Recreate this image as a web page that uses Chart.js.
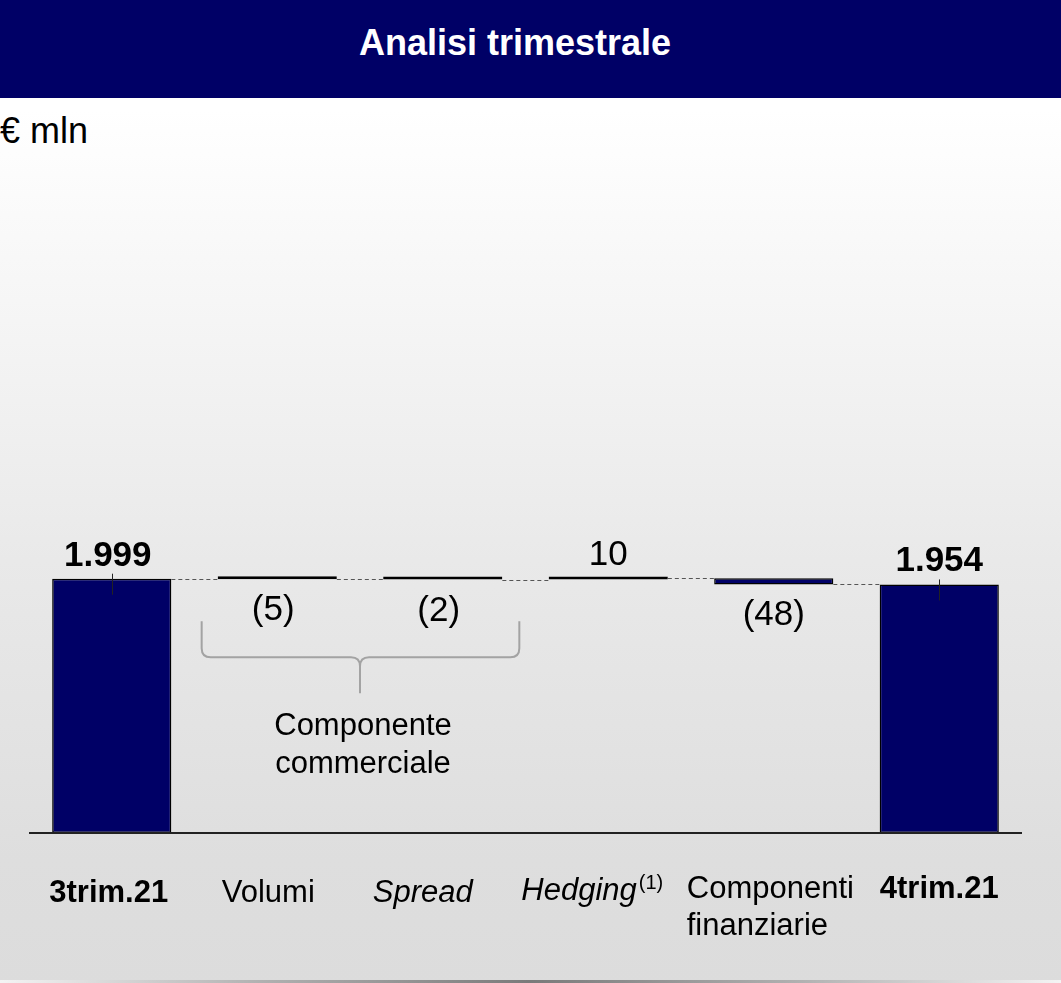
<!DOCTYPE html>
<html>
<head>
<meta charset="utf-8">
<script src="https://cdn.jsdelivr.net/npm/chart.js@4.4.1/dist/chart.umd.min.js"></script>
<style>
  html, body { margin: 0; padding: 0; }
  body {
    width: 1061px; height: 983px; position: relative; overflow: hidden;
    font-family: "Liberation Sans", Arial, sans-serif;
    background: linear-gradient(to bottom, #ffffff 0px, #ffffff 110px, #f6f6f6 300px, #e9e9e9 560px, #dedede 860px, #dcdcdc 983px);
  }
  #header {
    position: absolute; left: 0; top: 0; width: 1061px; height: 98px; background: #000066;
  }
  #title {
    position: absolute; left: 0; top: 25px; width: 1030px; text-align: center;
    color: #ffffff; font-weight: bold; font-size: 36px; line-height: 36px;
  }
  #unit {
    position: absolute; left: 0; top: 113px; font-size: 36px; line-height: 36px; color: #000;
  }
  #bottomline {
    position: absolute; left: 0; bottom: 0; width: 1061px; height: 3px;
    background: linear-gradient(to right, #f4f4f4 0%, #b0b0b0 25%, #7a7a7a 50%, #b0b0b0 75%, #f4f4f4 100%);
  }
  canvas { position: absolute; left: 0; top: 0; }
</style>
</head>
<body>
<div id="header"><div id="title">Analisi trimestrale</div></div>
<div id="unit">€ mln</div>
<canvas id="c" width="1061" height="983"></canvas>
<div id="bottomline"></div>
<script>
// ---- data ----
const categories = ['3trim.21', 'Volumi', 'Spread', 'Hedging', 'Componenti finanziarie', '4trim.21'];
const startTotal = 1999;           // 3trim.21
const changes = [-5, -2, 10, -48]; // Volumi, Spread, Hedging, Componenti finanziarie
const endTotal = 1954;             // 4trim.21
const groupLabel = ['Componente', 'commerciale'];
const footnote = '(1)';

// ---- build floating bars ----
const floating = [];
const running = [];
floating.push([0, startTotal]);
running.push(startTotal);
let cur = startTotal;
changes.forEach(d => {
  floating.push([cur, cur + d]);
  cur += d;
  running.push(cur);
});
floating.push([0, endTotal]);
running.push(endTotal);

const fmtTotal = v => v.toLocaleString('it-IT');
const fmtDelta = d => d < 0 ? '(' + Math.abs(d) + ')' : String(d);
const valueLabels = [fmtTotal(startTotal), ...changes.map(fmtDelta), fmtTotal(endTotal)];

const FONT = '"Liberation Sans", Arial, sans-serif';

const overlay = {
  id: 'overlay',
  afterDatasetsDraw(chart) {
    const ctx = chart.ctx;
    const y = chart.scales.y;
    const meta = chart.getDatasetMeta(0);
    const bars = meta.data;
    const area = chart.chartArea;
    const n = bars.length;

    ctx.save();
    // connectors
    ctx.strokeStyle = '#555555';
    ctx.lineWidth = 1;
    ctx.setLineDash([4, 3]);
    for (let i = 0; i < n - 1; i++) {
      const b = bars[i], nb = bars[i + 1];
      const yy = Math.round(y.getPixelForValue(running[i])) + 0.5;
      ctx.beginPath();
      ctx.moveTo(b.x + b.width / 2, yy);
      ctx.lineTo(nb.x - nb.width / 2, yy);
      ctx.stroke();
    }
    ctx.setLineDash([]);

    // small ticks on totals
    ctx.strokeStyle = '#222222';
    ctx.lineWidth = 1;
    [0, n - 1].forEach(i => {
      const b = bars[i];
      const top = y.getPixelForValue(floating[i][1]);
      const xx = Math.round(b.x) + 0.5;
      ctx.beginPath();
      ctx.moveTo(xx, top - 5);
      ctx.lineTo(xx, top + 16);
      ctx.stroke();
    });

    // axis baseline
    ctx.strokeStyle = '#222222';
    ctx.lineWidth = 2;
    const by = y.getPixelForValue(0);
    ctx.beginPath();
    ctx.moveTo(area.left, by);
    ctx.lineTo(area.right, by);
    ctx.stroke();

    // value labels
    ctx.fillStyle = '#000000';
    ctx.textAlign = 'center';
    ctx.textBaseline = 'alphabetic';
    for (let i = 0; i < n; i++) {
      const b = bars[i];
      const [a, e] = floating[i];
      const isTotal = (i === 0 || i === n - 1);
      ctx.font = (isTotal ? 'bold ' : '') + '35px ' + FONT;
      const topPx = y.getPixelForValue(Math.max(a, e));
      const botPx = y.getPixelForValue(Math.min(a, e));
      const xOff = (i >= 0 && i <= 2) ? -4 : 0;
      if (isTotal || e > a) {
        ctx.fillText(valueLabels[i], b.x + xOff, topPx - 13);
      } else {
        ctx.fillText(valueLabels[i], b.x + xOff, botPx + 41);
      }
    }

    // bracket for commercial component
    const b1 = bars[1], b2 = bars[2];
    const ref = y.getPixelForValue(running[1]);
    const lx = b1.x - b1.width / 2 - 16;
    const rx = b2.x + b2.width / 2 + 17;
    const mx = (b1.x + b1.width / 2 + b2.x - b2.width / 2) / 2;
    const t0 = ref + 42, hy = ref + 78, tip = ref + 114, r = 9;
    ctx.strokeStyle = '#a3a3a3';
    ctx.lineWidth = 2;
    ctx.beginPath();
    ctx.moveTo(lx, t0);
    ctx.lineTo(lx, hy - r);
    ctx.quadraticCurveTo(lx, hy, lx + r, hy);
    ctx.lineTo(mx - r, hy);
    ctx.quadraticCurveTo(mx, hy, mx, hy + r);
    ctx.lineTo(mx, tip);
    ctx.moveTo(rx, t0);
    ctx.lineTo(rx, hy - r);
    ctx.quadraticCurveTo(rx, hy, rx - r, hy);
    ctx.lineTo(mx + r, hy);
    ctx.quadraticCurveTo(mx, hy, mx, hy + r);
    ctx.stroke();

    ctx.fillStyle = '#000000';
    ctx.font = '31px ' + FONT;
    ctx.textAlign = 'center';
    ctx.fillText(groupLabel[0], mx + 3, ref + 156);
    ctx.fillText(groupLabel[1], mx + 3, ref + 194);

    // category labels
    const ly = by + 69;
    const catStyle = [
      { font: 'bold 31px ', dx: -3 },
      { font: '31px ', dx: -9 },
      { font: 'italic 31px ', dx: -20 },
      { font: 'italic 31px ', dx: -16 },
      { font: '31px ', dx: -87, left: true },
      { font: 'bold 31px ', dx: 0 }
    ];
    for (let i = 0; i < n; i++) {
      const s = catStyle[i];
      const cx = bars[i].x + s.dx;
      ctx.font = s.font + FONT;
      if (i === 3) {
        const w1 = ctx.measureText(categories[i]).width;
        ctx.font = '20px ' + FONT;
        const w2 = ctx.measureText(footnote).width;
        const x0 = cx - (w1 + 2 + w2) / 2;
        ctx.textAlign = 'left';
        ctx.font = s.font + FONT;
        ctx.fillText(categories[i], x0, ly - 2);
        ctx.font = '20px ' + FONT;
        ctx.fillText(footnote, x0 + w1 + 2, ly - 13);
      } else if (s.left) {
        const words = categories[i].split(' ');
        ctx.textAlign = 'left';
        ctx.fillText(words[0], cx, ly - 4);
        ctx.fillText(words.slice(1).join(' '), cx, ly + 33);
      } else {
        ctx.textAlign = 'center';
        ctx.fillText(categories[i], cx, i === n - 1 ? ly - 4 : ly);
      }
    }
    ctx.restore();
  }
};

const yMax = 1999 * (833 - 140) / 254.3;

new Chart(document.getElementById('c'), {
  type: 'bar',
  data: {
    labels: categories,
    datasets: [{
      data: floating,
      backgroundColor: '#000066',
      borderColor: '#000000',
      borderWidth: 1.5,
      borderSkipped: false,
      minBarLength: 3,
      categoryPercentage: 1,
      barPercentage: 0.72
    }]
  },
  options: {
    responsive: false,
    animation: false,
    events: [],
    layout: { padding: { left: 29, right: 39, top: 140, bottom: 150 } },
    plugins: { legend: { display: false }, tooltip: { enabled: false }, title: { display: false } },
    scales: {
      x: { display: false },
      y: { display: false, min: 0, max: yMax }
    }
  },
  plugins: [overlay]
});
</script>
</body>
</html>
